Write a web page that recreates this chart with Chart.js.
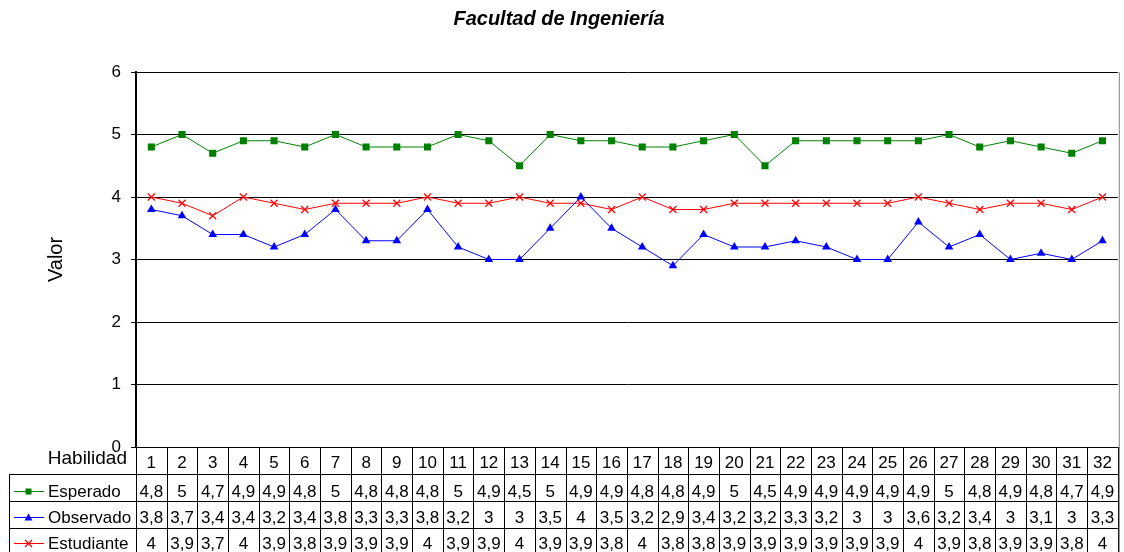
<!DOCTYPE html>
<html lang="es">
<head>
  <meta charset="UTF-8">
  <title>Facultad de Ingeniería</title>
  <script src="https://cdn.jsdelivr.net/npm/chart.js"></script>
  <style>
    html, body { margin: 0; padding: 0; background: #fff; overflow: hidden; }
    #wrap { width: 1124px; height: 552px; }
  </style>
</head>
<body>
  <div id="wrap"><canvas id="grafico"></canvas></div>
  <script>
    var habilidades = ['1','2','3','4','5','6','7','8','9','10','11','12','13','14','15','16',
                       '17','18','19','20','21','22','23','24','25','26','27','28','29','30','31','32'];
    var esperado   = [4.8,5,4.7,4.9,4.9,4.8,5,4.8,4.8,4.8,5,4.9,4.5,5,4.9,4.9,4.8,4.8,4.9,5,4.5,4.9,4.9,4.9,4.9,4.9,5,4.8,4.9,4.8,4.7,4.9];
    var observado  = [3.8,3.7,3.4,3.4,3.2,3.4,3.8,3.3,3.3,3.8,3.2,3,3,3.5,4,3.5,3.2,2.9,3.4,3.2,3.2,3.3,3.2,3,3,3.6,3.2,3.4,3,3.1,3,3.3];
    var estudiante = [4,3.9,3.7,4,3.9,3.8,3.9,3.9,3.9,4,3.9,3.9,4,3.9,3.9,3.8,4,3.8,3.8,3.9,3.9,3.9,3.9,3.9,3.9,4,3.9,3.8,3.9,3.9,3.8,4];
    var valoresEje = [0, 1, 2, 3, 4, 5, 6];

    Chart.defaults.font.family = "'Liberation Sans', Arial, sans-serif";
    Chart.defaults.color = '#000';

    var series = [
      { label: 'Esperado', data: esperado, color: '#008000', estilo: 'rect' },
      { label: 'Observado', data: observado, color: '#0000ff', estilo: 'triangle' },
      { label: 'Estudiante', data: estudiante, color: '#ff0000', estilo: 'crossRot' }
    ];

    function fmt(v) { return String(v).replace('.', ','); }

    // dibuja el marcador de la leyenda dentro de la tabla
    function marcador(ctx, estilo, color, x, y) {
      ctx.save();
      ctx.fillStyle = color;
      ctx.strokeStyle = color;
      ctx.lineWidth = 1.3;
      if (estilo === 'rect') {
        ctx.fillRect(x - 3, y - 3, 6, 6);
      } else if (estilo === 'triangle') {
        ctx.beginPath();
        ctx.moveTo(x, y - 4);
        ctx.lineTo(x + 4, y + 3);
        ctx.lineTo(x - 4, y + 3);
        ctx.closePath();
        ctx.fill();
      } else {
        ctx.beginPath();
        ctx.moveTo(x - 3.5, y - 3.5); ctx.lineTo(x + 3.5, y + 3.5);
        ctx.moveTo(x + 3.5, y - 3.5); ctx.lineTo(x - 3.5, y + 3.5);
        ctx.stroke();
      }
      ctx.restore();
    }

    // tabla de datos debajo del grafico (como en Excel)
    var tablaDatos = {
      id: 'tablaDatos',
      afterDraw: function (chart) {
        var ctx = chart.ctx;
        var xs = chart.scales.x;
        var area = chart.chartArea;
        var paso = xs.getPixelForValue(1) - xs.getPixelForValue(0);
        var filas = [474, 501, 528, 555];
        var base = [497, 523, 549];
        var fondo = 560;
        ctx.save();
        ctx.strokeStyle = '#000';
        ctx.lineWidth = 1;
        ctx.beginPath();
        // lineas verticales entre categorias
        for (var i = 0; i <= habilidades.length; i++) {
          var bx = Math.round(xs.getPixelForValue(i) - paso / 2) + 0.5;
          ctx.moveTo(bx, area.bottom);
          ctx.lineTo(bx, fondo);
        }
        // lineas horizontales
        for (var f = 0; f < filas.length; f++) {
          ctx.moveTo(9.5, filas[f] + 0.5);
          ctx.lineTo(area.right, filas[f] + 0.5);
        }
        ctx.moveTo(9.5, filas[0]);
        ctx.lineTo(9.5, fondo);
        ctx.stroke();

        // borde derecho gris
        ctx.strokeStyle = '#808080';
        ctx.beginPath();
        ctx.moveTo(area.right + 1.5, area.top);
        ctx.lineTo(area.right + 1.5, fondo);
        ctx.stroke();

        // encabezado
        ctx.fillStyle = '#000';
        ctx.textBaseline = 'alphabetic';
        ctx.font = "19px 'Liberation Sans', Arial, sans-serif";
        ctx.textAlign = 'right';
        ctx.fillText('Habilidad', 127, 464);
        ctx.font = "17px 'Liberation Sans', Arial, sans-serif";
        ctx.textAlign = 'center';
        habilidades.forEach(function (h, i) {
          ctx.fillText(h, xs.getPixelForValue(i), 468);
        });

        // filas de series
        series.forEach(function (s, r) {
          var cy = base[r] - 6;
          ctx.fillStyle = s.color;
          ctx.fillRect(14, cy, 30, 1);
          marcador(ctx, s.estilo, s.color, 28.5, cy + 0.5);
          ctx.fillStyle = '#000';
          ctx.textAlign = 'left';
          ctx.fillText(s.label, 48, base[r]);
          ctx.textAlign = 'center';
          s.data.forEach(function (v, i) {
            ctx.fillText(fmt(v), xs.getPixelForValue(i), base[r]);
          });
        });
        ctx.restore();
      }
    };

    var ctx = document.getElementById('grafico').getContext('2d');
    var grafico = new Chart(ctx, {
      type: 'line',
      data: {
        labels: habilidades,
        datasets: series.map(function (s) {
          return {
            label: s.label,
            data: s.data,
            borderColor: s.color,
            backgroundColor: s.color,
            borderWidth: 1,
            pointStyle: s.estilo,
            pointRadius: 5,
            pointBorderWidth: s.estilo === 'crossRot' ? 1.2 : 0,
            tension: 0,
            fill: false
          };
        })
      },
      options: {
        responsive: true,
        maintainAspectRatio: false,
        animation: false,
        layout: { padding: { left: 0, right: 6, top: 0, bottom: 105 } },
        plugins: {
          legend: { display: false },
          tooltip: { enabled: false },
          title: {
            display: true,
            text: 'Facultad de Ingeniería',
            color: '#000',
            font: { size: 20, weight: 'bold', style: 'italic' },
            padding: { top: 7, bottom: 41 }
          }
        },
        scales: {
          x: {
            type: 'category',
            offset: true,
            display: false
          },
          y: {
            min: 0,
            max: 6,
            afterFit: function (scale) { scale.width = 136; },
            afterBuildTicks: function (scale) {
              scale.ticks = valoresEje.map(function (v) { return { value: v }; });
            },
            ticks: {
              color: '#000',
              font: { size: 17 },
              padding: 10
            },
            grid: {
              color: '#000',
              lineWidth: 1,
              tickLength: 5,
              drawTicks: true
            },
            border: { display: true, color: '#000', width: 2 },
            title: {
              display: true,
              text: 'Valor',
              color: '#000',
              font: { size: 20 },
              padding: { top: 44, bottom: 0 }
            }
          }
        }
      },
      plugins: [tablaDatos]
    });
  </script>
</body>
</html>
